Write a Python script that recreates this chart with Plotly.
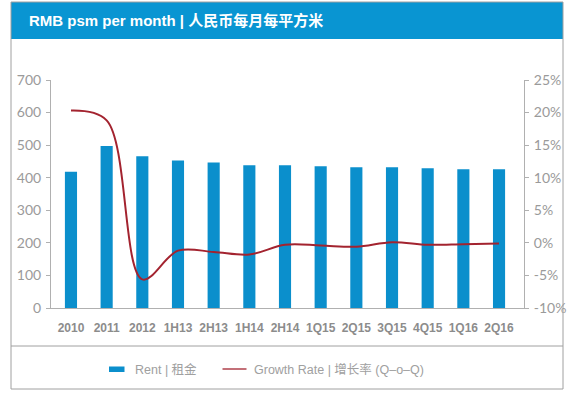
import plotly.graph_objects as go

categories = ["2010", "2011", "2012", "1H13", "2H13", "1H14", "2H14",
              "1Q15", "2Q15", "3Q15", "4Q15", "1Q16", "2Q16"]
rent = [418, 497, 466, 453, 447, 438, 438, 435, 432, 432, 429, 426, 426]
growth = [20.3, 18.8, -5.6, -1.2, -1.4, -1.8, -0.3, -0.4, -0.6, 0.1, -0.3, -0.2, -0.1]

left_ticks = [0, 100, 200, 300, 400, 500, 600, 700]
right_ticks = [-10, -5, 0, 5, 10, 15, 20, 25]
right_text = ["-10%", "-5%", "0%", "5%", "10%", "15%", "20%", "25%"]

title_text = "RMB psm per month | 人民币每月每平方米"
legend_rent = "Rent | 租金"
legend_growth = "Growth Rate | 增长率 (Q–o–Q)"

W, H = 570, 395
ML, MR, MT, MB = 51, 46, 80, 87
PW, PH = W - ML - MR, H - MT - MB


def px(x):
    return (x - ML) / PW


def py(y):
    return (H - MB - y) / PH


BAR = "#0b8fcc"
LINE = "#a3232f"
GREY = "#9a9a9a"
AXIS = "#b0b0b0"
BORDER = "#a0a0a0"

fig = go.Figure()
fig.add_trace(go.Bar(x=categories, y=rent, width=0.34, marker_color=BAR,
                     marker_line_width=0, name=legend_rent, showlegend=False,
                     hoverinfo="skip"))
fig.add_trace(go.Scatter(x=categories, y=growth, yaxis="y2", mode="lines",
                         line=dict(color=LINE, width=2, shape="spline", smoothing=1),
                         name=legend_growth, showlegend=False, hoverinfo="skip"))

shapes = [
    dict(type="rect", xref="paper", yref="paper", x0=px(11), x1=px(563), y0=py(39), y1=py(2),
         fillcolor="#0995d2", line=dict(width=0), layer="below"),
    dict(type="rect", xref="paper", yref="paper", x0=px(11), x1=px(563), y0=py(389), y1=py(2),
         line=dict(color=BORDER, width=1), fillcolor="rgba(0,0,0,0)"),
    dict(type="line", xref="paper", yref="paper", x0=px(11), x1=px(563), y0=py(346), y1=py(346),
         line=dict(color=BORDER, width=1)),
    dict(type="rect", xref="paper", yref="paper", x0=px(109), x1=px(124.5), y0=py(372), y1=py(366.5),
         fillcolor=BAR, line=dict(width=0)),
    dict(type="line", xref="paper", yref="paper", x0=px(222.5), x1=px(246.5), y0=py(369), y1=py(369),
         line=dict(color=LINE, width=1.3)),
]

annotations = [
    dict(text=title_text, xref="paper", yref="paper", x=px(26.5), y=py(20.5), xanchor="left",
         yanchor="middle", showarrow=False,
         font=dict(family="Arial, 'Noto Sans CJK SC'", size=15, color="white", weight="bold")),
    dict(text=legend_rent, xref="paper", yref="paper", x=px(133), y=py(369.5), xanchor="left",
         yanchor="middle", showarrow=False,
         font=dict(family="Arial, 'Noto Sans CJK SC'", size=12.5, color="#a0a0a0")),
    dict(text=legend_growth, xref="paper", yref="paper", x=px(251.5), y=py(369), xanchor="left",
         yanchor="middle", showarrow=False,
         font=dict(family="Arial, 'Noto Sans CJK SC'", size=12.5, color="#a0a0a0")),
]

fig.update_layout(
    width=W, height=H, autosize=False,
    margin=dict(l=ML, r=MR, t=MT, b=MB, pad=0, autoexpand=False),
    paper_bgcolor="white", plot_bgcolor="white",
    showlegend=False,
    shapes=shapes, annotations=annotations,
    xaxis=dict(type="category", range=[-0.56, 12.70], showgrid=False, zeroline=False,
               automargin=False,
               showline=True, linecolor=AXIS, linewidth=1, ticks="", ticklabelstandoff=9,
               tickfont=dict(family="Arial", size=12, color="#8c8c8c", weight="bold")),
    yaxis=dict(range=[0, 700], tickvals=left_ticks, showgrid=False, zeroline=False,
               automargin=False,
               showline=True, linecolor=AXIS, linewidth=1, ticks="outside", ticklen=4,
               tickcolor=AXIS, ticklabelstandoff=2,
               tickfont=dict(family="Lato", size=14, color=GREY)),
    yaxis2=dict(range=[-10, 25], tickvals=right_ticks, ticktext=right_text, overlaying="y",
                automargin=False,
                side="right", showgrid=False, zeroline=False, showline=True, linecolor=AXIS,
                linewidth=1, ticks="outside", ticklen=4, tickcolor=AXIS, ticklabelstandoff=2,
                tickfont=dict(family="Lato", size=14, color=GREY)),
)

fig.write_html("out.html", config={"displayModeBar": False, "responsive": False},
               post_script="document.body.style.margin='0';document.body.style.overflow='hidden';")
